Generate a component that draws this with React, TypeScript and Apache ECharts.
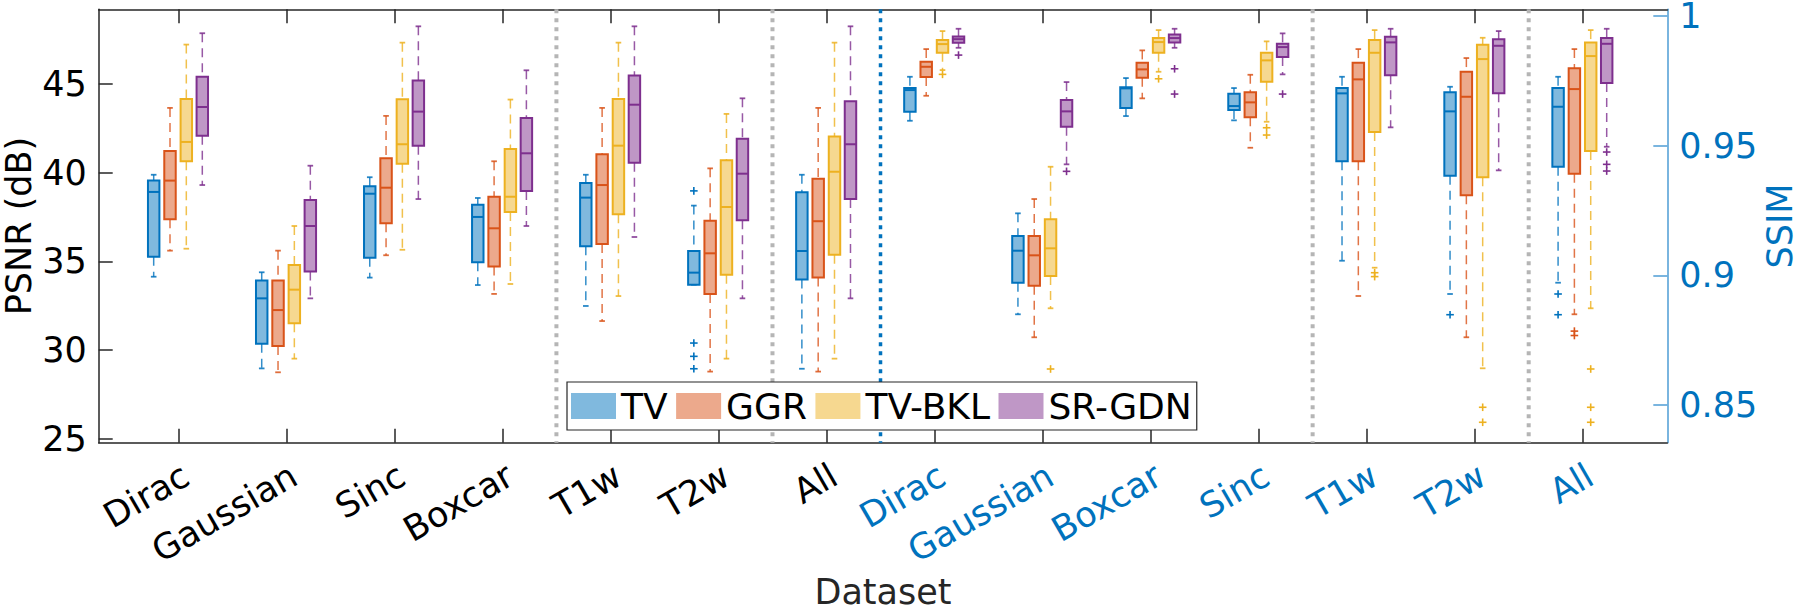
import React, { useEffect, useRef } from "react";
import * as echarts from "echarts";

// ---------- data ----------
const categories = [
  "Dirac", "Gaussian", "Sinc", "Boxcar", "T1w", "T2w", "All",
  "Dirac", "Gaussian", "Boxcar", "Sinc", "T1w", "T2w", "All",
];
const categoryPositions = [1, 2, 3, 4, 5, 6, 7, 8, 9, 10, 11, 12, 13, 14];
const psnrPositions = [1, 2, 3, 4, 5, 6, 7];
const ssimPositions = [8, 9, 10, 11, 12, 13, 14];

const methods = ["TV", "GGR", "TV-BKL", "SR-GDN"];
const edgeColors = ["#0072BD", "#D95319", "#EDB120", "#7E2F8E"];
const fillColors = ["#80B9DE", "#ECA98C", "#F6D890", "#BF97C6"];
const boxOffsets = [-0.228, -0.077, 0.074, 0.222];

const psnrTicks = [25, 30, 35, 40, 45];
const ssimTicks = [0.85, 0.9, 0.95, 1];
const grayDividers = [4.5, 6.5, 11.5, 13.5];
const blueDividers = [7.5];

// PSNR [min, q1, median, q3, max] : Dirac, Gaussian, Sinc, Boxcar, T1w, T2w, All
const psnrTV = [
  [34.13, 35.26, 38.91, 39.55, 39.88],
  [28.96, 30.35, 32.91, 33.91, 34.38],
  [34.08, 35.2, 38.81, 39.23, 39.74],
  [33.66, 34.94, 37.5, 38.19, 38.57],
  [32.48, 35.85, 38.59, 39.42, 39.88],
  [33.68, 33.68, 34.36, 35.58, 38.14],
  [28.94, 33.98, 35.58, 38.89, 39.88],
];
const psnrGGR = [
  [35.6, 37.37, 39.55, 41.22, 43.65],
  [28.74, 30.22, 32.25, 33.91, 35.6],
  [35.34, 37.14, 39.15, 40.81, 43.2],
  [33.16, 34.7, 36.86, 38.64, 40.64],
  [31.63, 35.98, 39.3, 41.03, 43.65],
  [28.78, 33.16, 35.45, 37.29, 40.24],
  [28.78, 34.08, 37.26, 39.66, 43.65],
];
const psnrBKL = [
  [35.71, 40.64, 41.73, 44.15, 47.22],
  [29.51, 31.5, 33.4, 34.79, 36.99],
  [35.65, 40.5, 41.6, 44.14, 47.33],
  [33.72, 37.78, 38.64, 41.33, 44.12],
  [33.04, 37.65, 41.52, 44.15, 47.33],
  [29.51, 34.24, 38.06, 40.7, 43.31],
  [29.51, 35.37, 40.05, 42.03, 47.33],
];
const psnrGDN = [
  [39.3, 42.08, 43.7, 45.41, 47.86],
  [32.91, 34.43, 36.99, 38.46, 40.39],
  [38.51, 41.52, 43.44, 45.19, 48.25],
  [36.99, 38.97, 41.09, 43.08, 45.77],
  [36.37, 40.56, 43.83, 45.47, 48.25],
  [32.91, 37.31, 39.94, 41.91, 44.19],
  [32.91, 38.51, 41.6, 44.02, 48.25],
];

// SSIM [min, q1, median, q3, max] : Dirac, Gaussian, Boxcar, Sinc, T1w, T2w, All
const ssimTV = [
  [0.95955, 0.96302, 0.97138, 0.97215, 0.9765],
  [0.88498, 0.89715, 0.90948, 0.91514, 0.92388],
  [0.96136, 0.96444, 0.97203, 0.97242, 0.976],
  [0.95971, 0.96368, 0.96522, 0.96995, 0.97215],
  [0.90562, 0.94391, 0.97011, 0.97215, 0.9765],
  [0.8928, 0.93837, 0.96317, 0.97049, 0.97265],
  [0.89715, 0.94183, 0.96495, 0.97215, 0.9765],
];
const ssimGGR = [
  [0.96918, 0.97639, 0.98035, 0.98228, 0.98717],
  [0.87612, 0.896, 0.9077, 0.91514, 0.92939],
  [0.96818, 0.97612, 0.97935, 0.98189, 0.98667],
  [0.94915, 0.96086, 0.96664, 0.97049, 0.97727],
  [0.89203, 0.94391, 0.9755, 0.98189, 0.98717],
  [0.87612, 0.93082, 0.9688, 0.97843, 0.98371],
  [0.88498, 0.93914, 0.97176, 0.97974, 0.98717],
];
const ssimBKL = [
  [0.97908, 0.98575, 0.9891, 0.99064, 0.99411],
  [0.88729, 0.89973, 0.9104, 0.92157, 0.94183],
  [0.97843, 0.98575, 0.98987, 0.99141, 0.99449],
  [0.95917, 0.97458, 0.98282, 0.98575, 0.99014],
  [0.90293, 0.9552, 0.98575, 0.99064, 0.99449],
  [0.86417, 0.93775, 0.98332, 0.98883, 0.99153],
  [0.88729, 0.94788, 0.98448, 0.98975, 0.99449],
];
const ssimGDN = [
  [0.98767, 0.9896, 0.991, 0.99206, 0.995],
  [0.94276, 0.95724, 0.96317, 0.96753, 0.97446],
  [0.98767, 0.98975, 0.99141, 0.99283, 0.995],
  [0.97743, 0.98409, 0.98794, 0.98921, 0.99322],
  [0.95701, 0.97704, 0.98975, 0.99191, 0.995],
  [0.94044, 0.97011, 0.98844, 0.991, 0.99411],
  [0.94954, 0.97408, 0.98921, 0.99141, 0.995],
];

// outliers: [category position, value]
const psnrOutTV = [[6, 38.97], [6, 30.39], [6, 29.64], [6, 28.94]];
const psnrOutGGR: number[][] = [];
const psnrOutBKL: number[][] = [];
const psnrOutGDN: number[][] = [];
const ssimOutTV = [[13, 0.88482], [14, 0.8928], [14, 0.88482]];
const ssimOutGGR = [[14, 0.8785], [14, 0.8768]];
const ssimOutBKL = [
  [8, 0.97743], [9, 0.8639], [10, 0.97573], [11, 0.95686], [11, 0.95405],
  [12, 0.901], [12, 0.8995], [13, 0.84915], [13, 0.84337],
  [14, 0.8639], [14, 0.84915], [14, 0.84337],
];
const ssimOutGDN = [
  [8, 0.98486], [9, 0.94006], [10, 0.97958], [10, 0.96984], [11, 0.96984],
  [14, 0.9475], [14, 0.94276], [14, 0.94018],
];

const psnrStats = [psnrTV, psnrGGR, psnrBKL, psnrGDN];
const ssimStats = [ssimTV, ssimGGR, ssimBKL, ssimGDN];
const psnrOutliers = [psnrOutTV, psnrOutGGR, psnrOutBKL, psnrOutGDN];
const ssimOutliers = [ssimOutTV, ssimOutGGR, ssimOutBKL, ssimOutGDN];

// ---------- axes / layout ----------
const FONT = "DejaVu Sans";
const X_MIN = 0.263;
const X_MAX = 14.783;
const PSNR_MIN = 24.77;
const PSNR_MAX = 49.21;
const SSIM_MIN = 0.8355;
const SSIM_MAX = 1.0025;
const LABEL_SHIFT = 0.07; // category label anchor, in axis units right of the tick
const LABEL_DROP = 30; // px below the axis line
const LABEL_SIZE = 35;

const makeBoxRender = (m: number) => (params: any, api: any) => {
  const x = api.value(0) + boxOffsets[m];
  const lo = api.coord([x, api.value(1)]);
  const q1 = api.coord([x, api.value(2)]);
  const med = api.coord([x, api.value(3)]);
  const q3 = api.coord([x, api.value(4)]);
  const hi = api.coord([x, api.value(5)]);
  const unit = api.size([1, 0])[0];
  const half = unit * 0.053;
  const cap = 2.8;
  const cx = lo[0];
  const color = edgeColors[m];
  const whisker = { stroke: color, lineWidth: 1.5, lineDash: [9, 6], opacity: 0.8 };
  const capStyle = { stroke: color, lineWidth: 1.8, opacity: 0.85 };
  return {
    type: "group",
    children: [
      { type: "line", shape: { x1: cx, y1: hi[1], x2: cx, y2: q3[1] }, style: whisker },
      { type: "line", shape: { x1: cx, y1: q1[1], x2: cx, y2: lo[1] }, style: whisker },
      { type: "line", shape: { x1: cx - cap, y1: hi[1], x2: cx + cap, y2: hi[1] }, style: capStyle },
      { type: "line", shape: { x1: cx - cap, y1: lo[1], x2: cx + cap, y2: lo[1] }, style: capStyle },
      {
        type: "rect",
        shape: { x: cx - half, y: q3[1], width: 2 * half, height: q1[1] - q3[1] },
        style: { fill: fillColors[m], stroke: color, lineWidth: 2 },
      },
      {
        type: "line",
        shape: { x1: cx - half, y1: med[1], x2: cx + half, y2: med[1] },
        style: { stroke: color, lineWidth: 2 },
      },
    ],
  };
};

const makeOutlierRender = (m: number) => (params: any, api: any) => {
  const p = api.coord([api.value(0) + boxOffsets[m], api.value(1)]);
  const r = 3.8;
  const st = { stroke: edgeColors[m], lineWidth: 1.6 };
  return {
    type: "group",
    children: [
      { type: "line", shape: { x1: p[0] - r, y1: p[1], x2: p[0] + r, y2: p[1] }, style: st },
      { type: "line", shape: { x1: p[0], y1: p[1] - r, x2: p[0], y2: p[1] + r }, style: st },
    ],
  };
};

const makeDividerRender = (color: string, width: number) => (params: any, api: any) => {
  const cs = params.coordSys;
  const x = api.coord([api.value(0), 30])[0];
  return {
    type: "line",
    shape: { x1: x, y1: cs.y, x2: x, y2: cs.y + cs.height },
    style: { stroke: color, lineWidth: width, lineDash: [4, 5] },
  };
};

function buildOption() {
  const series: any[] = [];
  series.push({
    type: "custom", name: "divGray", xAxisIndex: 0, yAxisIndex: 0,
    renderItem: makeDividerRender("#B5B5B5", 4),
    data: grayDividers.map((v) => [v]), encode: { x: 0 }, z: 1, silent: true,
  });
  series.push({
    type: "custom", name: "divBlue", xAxisIndex: 0, yAxisIndex: 0,
    renderItem: makeDividerRender("#0072BD", 3.5),
    data: blueDividers.map((v) => [v]), encode: { x: 0 }, z: 1, silent: true,
  });
  methods.forEach((name, m) => {
    series.push({
      type: "custom", name, xAxisIndex: 0, yAxisIndex: 0,
      renderItem: makeBoxRender(m),
      data: psnrStats[m].map((s, i) => [psnrPositions[i], ...s]),
      encode: { x: 0, y: [1, 2, 3, 4, 5] },
      itemStyle: { color: fillColors[m] }, z: 2,
    });
    series.push({
      type: "custom", name, xAxisIndex: 0, yAxisIndex: 1,
      renderItem: makeBoxRender(m),
      data: ssimStats[m].map((s, i) => [ssimPositions[i], ...s]),
      encode: { x: 0, y: [1, 2, 3, 4, 5] },
      itemStyle: { color: fillColors[m] }, z: 2,
    });
    series.push({
      type: "custom", name, xAxisIndex: 0, yAxisIndex: 0,
      renderItem: makeOutlierRender(m),
      data: psnrOutliers[m], encode: { x: 0, y: 1 },
      itemStyle: { color: fillColors[m] }, z: 2,
    });
    series.push({
      type: "custom", name, xAxisIndex: 0, yAxisIndex: 1,
      renderItem: makeOutlierRender(m),
      data: ssimOutliers[m], encode: { x: 0, y: 1 },
      itemStyle: { color: fillColors[m] }, z: 2,
    });
  });

  const axisGray = "#262626";

  return {
    animation: false,
    backgroundColor: "#ffffff",
    textStyle: { fontFamily: FONT },
    grid: {
      left: 98.7, right: 132.7, top: 9.3, bottom: 168.3,
      containLabel: false, outerBoundsMode: "none",
    },
    legend: {
      data: methods.map((name, m) => ({
        name, icon: "rect", itemStyle: { color: fillColors[m], borderWidth: 0 },
      })),
      left: 567, top: 382, orient: "horizontal",
      itemWidth: 45, itemHeight: 26, itemGap: 8.5,
      padding: [6, 5, 6, 4],
      backgroundColor: "#ffffff", borderColor: axisGray, borderWidth: 1.2, borderRadius: 0,
      selectedMode: false,
      textStyle: { fontSize: 36, color: "#000000", fontFamily: FONT },
      z: 10,
    },
    xAxis: [
      {
        type: "value", position: "bottom", min: X_MIN, max: X_MAX,
        axisLine: { show: true, onZero: false, lineStyle: { color: axisGray, width: 1.5 } },
        axisTick: {
          show: true, inside: true, length: 14, customValues: categoryPositions,
          lineStyle: { color: axisGray, width: 1.5 },
        },
        axisLabel: { show: false },
        splitLine: { show: false },
        name: "Dataset", nameLocation: "middle", nameGap: 132,
        nameTextStyle: { fontSize: 35, color: axisGray, fontFamily: FONT },
      },
      {
        type: "value", position: "top", min: X_MIN, max: X_MAX,
        axisLine: { show: true, onZero: false, lineStyle: { color: axisGray, width: 1.5 } },
        axisTick: {
          show: true, inside: true, length: 14, customValues: categoryPositions,
          lineStyle: { color: axisGray, width: 1.5 },
        },
        axisLabel: { show: false },
        splitLine: { show: false },
      },
    ],
    yAxis: [
      {
        type: "value", position: "left", min: PSNR_MIN, max: PSNR_MAX,
        axisLine: { show: true, onZero: false, lineStyle: { color: axisGray, width: 1.5 } },
        axisTick: {
          show: true, inside: true, length: 14, customValues: psnrTicks,
          lineStyle: { color: axisGray, width: 1.5 },
        },
        axisLabel: {
          customValues: psnrTicks, fontSize: 35, lineHeight: 30,
          color: "#000000", margin: 12, fontFamily: FONT,
        },
        splitLine: { show: false },
      },
      {
        type: "value", position: "right", min: SSIM_MIN, max: SSIM_MAX,
        axisLine: { show: true, onZero: false, lineStyle: { color: "#4E9CD5", width: 1.5 } },
        axisTick: {
          show: true, inside: true, length: 14, customValues: ssimTicks,
          lineStyle: { color: "#4E9CD5", width: 1.5 },
        },
        axisLabel: {
          customValues: ssimTicks, fontSize: 35, lineHeight: 30,
          color: "#0072BD", margin: 12, fontFamily: FONT,
          formatter: (v: number) => String(Number(Number(v).toFixed(2))),
        },
        splitLine: { show: false },
      },
    ],
    series,
  };
}

// category labels and y-axis titles, placed through the chart's own scales
function buildTextGraphics(chart: any) {
  const out: any[] = [];
  categoryPositions.forEach((p, i) => {
    const pt = chart.convertToPixel({ gridIndex: 0 }, [p + LABEL_SHIFT, PSNR_MIN]);
    out.push({
      type: "text",
      x: pt[0],
      y: pt[1] + LABEL_DROP,
      rotation: Math.PI / 6,
      silent: true,
      style: {
        text: categories[i],
        fontSize: LABEL_SIZE,
        fontFamily: FONT,
        fill: i < 7 ? "#000000" : "#0072BD",
        align: "right",
        verticalAlign: "middle",
      },
    });
  });
  const bottomLeft = chart.convertToPixel({ gridIndex: 0 }, [X_MIN, PSNR_MIN]);
  const topRight = chart.convertToPixel({ gridIndex: 0 }, [X_MAX, PSNR_MAX]);
  const midY = (bottomLeft[1] + topRight[1]) / 2;
  out.push({
    type: "text",
    x: bottomLeft[0] - 80,
    y: midY,
    rotation: Math.PI / 2,
    silent: true,
    style: { text: "PSNR (dB)", fontSize: 35, fontFamily: FONT, fill: "#000000", align: "center", verticalAlign: "middle" },
  });
  out.push({
    type: "text",
    x: topRight[0] + 113,
    y: midY,
    rotation: Math.PI / 2,
    silent: true,
    style: { text: "SSIM", fontSize: 35, fontFamily: FONT, fill: "#0072BD", align: "center", verticalAlign: "middle" },
  });
  return out;
}

export default function App() {
  const ref = useRef<HTMLDivElement>(null);
  useEffect(() => {
    if (!ref.current) return;
    const chart = echarts.init(ref.current, null, { renderer: "svg" });
    chart.setOption(buildOption() as any);
    chart.setOption({ graphic: buildTextGraphics(chart) } as any);
    return () => chart.dispose();
  }, []);
  return (
    <div
      ref={ref}
      style={{ position: "fixed", left: 0, top: 0, width: 1800, height: 611, background: "#ffffff" }}
    />
  );
}
